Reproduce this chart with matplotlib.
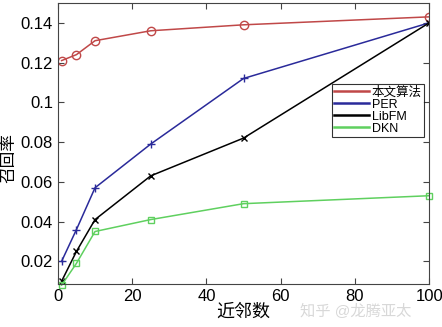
import matplotlib
matplotlib.use('Agg')
import matplotlib.pyplot as plt

plt.rcParams['font.family'] = ['Liberation Sans', 'Noto Sans CJK SC', 'DejaVu Sans']

# 数据
neighbors = [1, 5, 10, 25, 50, 100]
ours = [0.121, 0.124, 0.131, 0.136, 0.139, 0.143]
per = [0.020, 0.036, 0.057, 0.079, 0.112, 0.140]
libfm = [0.010, 0.025, 0.041, 0.063, 0.082, 0.140]
dkn = [0.008, 0.019, 0.035, 0.041, 0.049, 0.053]
names = ['本文算法', 'PER', 'LibFM', 'DKN']

fig = plt.figure(figsize=(4.42, 3.27), dpi=100)
ax = fig.add_axes([0.131, 0.131, 0.840, 0.860])

ax.plot(neighbors, ours, color='#c04848', marker='o', mfc='none', ms=6, lw=1.1, label=names[0])
ax.plot(neighbors, per, color='#2a2a9a', marker='+', ms=6, lw=1.1, label=names[1])
ax.plot(neighbors, libfm, color='black', marker='x', ms=5, lw=1.1, label=names[2])
ax.plot(neighbors, dkn, color='#5fd05f', marker='s', mfc='none', ms=5, lw=1.1, label=names[3], clip_on=False)

ax.set_xlim(0, 100)
ax.set_ylim(0.0085, 0.150)
ax.set_xticks([0, 20, 40, 60, 80, 100])
ax.set_yticks([0.02, 0.04, 0.06, 0.08, 0.1, 0.12, 0.14])
ax.set_yticklabels(['0.02', '0.04', '0.06', '0.08', '0.1', '0.12', '0.14'])
ax.tick_params(direction='in', top=True, right=True, labelsize=12, length=4, color='#444444')
for s in ax.spines.values():
    s.set_color('#444444')

ax.set_xlabel('近邻数', fontsize=13, labelpad=0)
ax.set_ylabel('召回率', fontsize=12)
ax.yaxis.set_label_coords(-0.112, 0.45)

leg = ax.legend(loc='upper right', bbox_to_anchor=(0.985, 0.71), fontsize=9, frameon=True,
                fancybox=False, edgecolor='black', borderpad=0.15, labelspacing=0.0,
                handlelength=2.8, handletextpad=0.2, borderaxespad=0)
for h in leg.get_lines():
    h.set_marker('')
    h.set_linewidth(1.8)
leg.get_frame().set_linewidth(0.8)

fig.text(0.93, 0.025, '知乎 @龙腾亚太', color='#d8d8d8', fontsize=11, ha='right', va='bottom')

fig.savefig('out.png', dpi=100)
